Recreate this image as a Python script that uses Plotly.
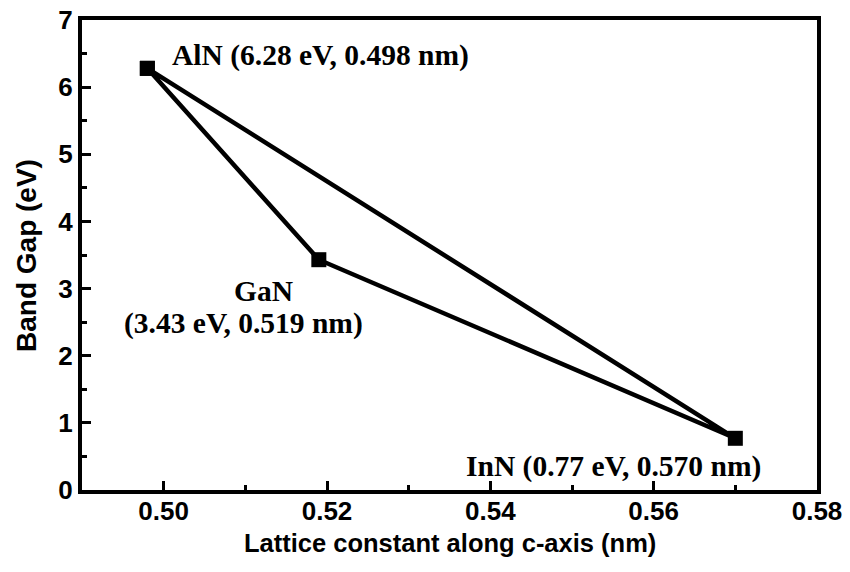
import plotly.graph_objects as go

materials = ["AlN", "GaN", "InN", "AlN"]
lattice_nm = [0.498, 0.519, 0.570, 0.498]
band_gap_ev = [6.28, 3.43, 0.77, 6.28]

alN_label = "AlN (6.28 eV, 0.498 nm)"
gaN_name = "GaN"
gaN_values = "(3.43 eV, 0.519 nm)"
inN_label = "InN (0.77 eV, 0.570 nm)"
x_title = "Lattice constant along c-axis (nm)"
y_title = "Band Gap (eV)"
x_ticks = [0.50, 0.52, 0.54, 0.56, 0.58]
x_ticktext = ["0.50", "0.52", "0.54", "0.56", "0.58"]
y_ticks = [0, 1, 2, 3, 4, 5, 6, 7]

fig = go.Figure()
fig.add_trace(go.Scatter(
    x=lattice_nm, y=band_gap_ev, mode="lines+markers",
    line=dict(color="black", width=4.5),
    marker=dict(symbol="square", size=15, color="black"),
    showlegend=False, hoverinfo="skip",
))

serif = dict(family="Liberation Serif", size=29.5, color="black", weight="bold")
fig.add_annotation(x=lattice_nm[0], y=band_gap_ev[0], text=alN_label,
                   showarrow=False, xanchor="left", yanchor="middle", xshift=23, yshift=13, font=serif)
fig.add_annotation(x=lattice_nm[1], y=band_gap_ev[1], text=gaN_name,
                   showarrow=False, xanchor="center", yanchor="middle", xshift=-55, yshift=-31, font=serif)
fig.add_annotation(x=lattice_nm[1], y=band_gap_ev[1], text=gaN_values,
                   showarrow=False, xanchor="center", yanchor="middle", xshift=-75, yshift=-64, font=serif)
fig.add_annotation(x=lattice_nm[2], y=band_gap_ev[2], text=inN_label,
                   showarrow=False, xanchor="right", yanchor="middle", xshift=28, yshift=-28, font=serif)

tick_font = dict(family="Liberation Sans", size=26, color="black", weight="bold")
xtitle_font = dict(family="Liberation Sans", size=25.5, color="black", weight="bold")
ytitle_font = dict(family="Liberation Sans", size=28, color="black", weight="bold")

fig.add_annotation(xref="paper", yref="paper", x=0.5, y=-0.113, text=x_title,
                   showarrow=False, xanchor="center", yanchor="middle", font=xtitle_font)
fig.add_annotation(xref="paper", yref="paper", x=-0.0762, y=0.5, text=y_title, textangle=-90,
                   showarrow=False, xanchor="center", yanchor="middle", font=ytitle_font)

common = dict(showline=True, linecolor="black", linewidth=4, mirror=True,
              ticks="inside", ticklen=9, tickwidth=3, tickcolor="black",
              showgrid=False, zeroline=False, tickfont=tick_font, automargin=False)

fig.update_xaxes(range=[0.49, 0.58], tickvals=x_ticks, ticktext=x_ticktext, ticklabelstandoff=-5,
                 minor=dict(dtick=0.01, tick0=0.49, ticks="inside", ticklen=5, tickwidth=3, tickcolor="black"),
                 **common)
fig.update_yaxes(range=[0, 7], tickvals=y_ticks,
                 minor=dict(dtick=0.5, ticks="inside", ticklen=5, tickwidth=3, tickcolor="black"),
                 **common)

fig.update_layout(width=850, height=572, margin=dict(l=82, r=33, t=20, b=82),
                  plot_bgcolor="white", paper_bgcolor="white")
fig.write_html("out.html")
